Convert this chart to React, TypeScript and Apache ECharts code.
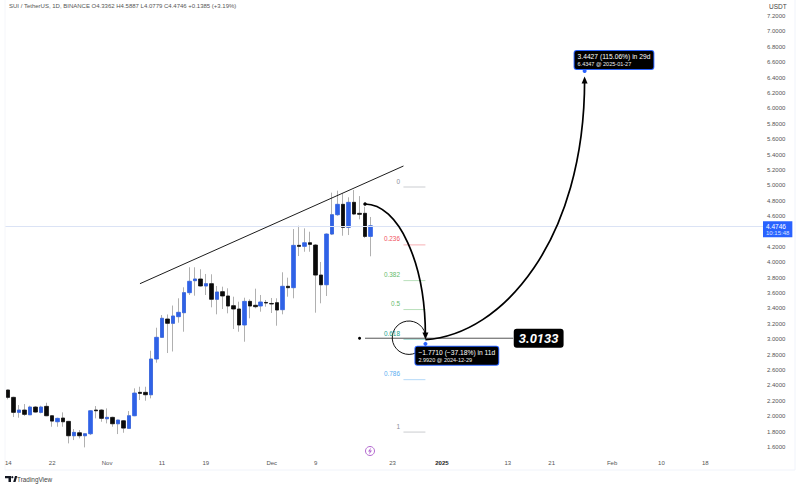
import React, { useEffect, useRef } from "react";
import * as echarts from "echarts";

const FONT = "'Liberation Sans', Arial, sans-serif";
const UP = "#2f62e6";
const DOWN = "#0a0a0a";
const WICK = "#b0b0b0";

const startDate = "2024-10-14";
const dayCount = 138;

const opens = [2.34,2.245,2.05,2.08,2.019,2.119,2.05,2.128,2.006,1.928,1.976,1.933,1.746,1.785,1.746,1.772,2.08,2.08,1.967,1.985,1.902,1.941,1.842,2.006,2.31,2.31,2.279,2.743,3.025,3.263,3.207,3.293,3.345,3.605,3.761,3.783,3.692,3.722,3.519,3.618,3.562,3.436,3.393,3.185,3.492,3.441,3.432,3.478,3.465,3.475,3.384,3.688,3.67,4.22,4.207,4.254,4.224,3.834,3.708,4.367,4.618,4.753,4.454,4.779,4.636,4.636,4.3362];
const closes = [2.245,2.05,2.08,2.024,2.119,2.054,2.119,2.006,1.937,1.972,1.928,1.746,1.79,1.746,1.772,2.071,2.071,1.972,1.985,1.902,1.95,1.846,2.006,2.301,2.297,2.279,2.743,3.025,3.272,3.207,3.302,3.35,3.605,3.753,3.783,3.692,3.722,3.519,3.614,3.562,3.432,3.393,3.185,3.492,3.432,3.423,3.484,3.471,3.458,3.38,3.688,3.67,4.22,4.207,4.254,4.233,3.834,3.708,4.367,4.618,4.753,4.454,4.779,4.627,4.623,4.336,4.4746];
const lows = [2.219,1.989,1.98,2.002,2.015,2.05,2.037,2.002,1.863,1.863,1.863,1.647,1.69,1.712,1.595,1.755,1.972,1.928,1.907,1.863,1.768,1.785,1.837,2.002,2.21,2.201,2.232,2.695,3.02,2.821,2.841,3.215,3.098,3.575,3.566,3.688,3.575,3.415,3.324,3.393,3.337,3.133,3.098,2.968,3.272,3.402,3.358,3.423,3.341,3.176,3.324,3.553,3.532,4.081,4.137,4.137,3.345,3.467,3.562,4.354,4.605,4.345,4.354,4.613,4.558,4.315,4.0779];
const highs = [2.345,2.253,2.145,2.158,2.136,2.132,2.136,2.175,2.015,1.98,2.05,1.937,1.833,1.82,1.777,2.08,2.132,2.089,2.102,1.993,1.954,1.95,2.067,2.362,2.383,2.383,2.851,3.15,3.315,3.322,3.438,3.532,3.675,3.935,3.935,3.909,3.848,3.844,3.692,3.683,3.662,3.553,3.488,3.54,3.519,3.657,3.575,3.51,3.536,3.532,3.87,3.8,4.432,4.475,4.441,4.397,4.237,4.004,4.374,4.905,4.931,4.896,4.844,4.939,4.86,4.722,4.5887];

const xTickDates = ["2024-10-14","2024-10-22","2024-11-01","2024-11-11","2024-11-19","2024-12-01","2024-12-09","2024-12-23","2025-01-01","2025-01-13","2025-01-21","2025-02-01","2025-02-10","2025-02-18"];
const xTickLabels = ["14","22","Nov","11","19","Dec","9","23","2025","13","21","Feb","10","18"];

const trendDates = ["2024-11-07", "2024-12-25"];
const trendPrices = [3.722, 5.251];

const fibLabels = ["0","0.236","0.382","0.5","0.618","0.786","1"];
const fibPrices = [4.978,4.226,3.762,3.386,3.0,2.475,1.794];
const fibColors = ["#8a8d96","#f0525c","#66bb6a","#66bb6a","#17a08c","#5aaef0","#8a8d96"];
const fibDates = ["2024-12-25", "2024-12-29"];

// start, control 1, control 2, end of each curved arrow
const downArcDates = ["2024-12-18","2024-12-24","2024-12-29","2024-12-29"];
const downArcPrices = [4.757,4.757,4.003,3.042];
const upArcDates = ["2024-12-29","2025-01-12","2025-01-27","2025-01-27"];
const upArcPrices = [2.996,3.055,4.289,6.368];

const supportDates = ["2024-12-18", "2025-01-14"];
const supportPrice = 3.0133;
const dotDate = "2024-12-17";
const circleDate = "2024-12-26";
const circlePrice = 3.02;

const lastPrice = 4.4746;
const countdown = "10:15:48";
const headerText = "SUI / TetherUS, 1D, BINANCE O4.3362 H4.5887 L4.0779 C4.4746 +0.1385 (+3.19%)";

const dateAt = (i: number) => new Date(Date.parse(startDate + "T00:00:00Z") + i * 86400000).toISOString().slice(0, 10);
const categories = Array.from({ length: dayCount }, (_, i) => dateAt(i));
const wickData = opens.map((o, i) => [o, closes[i], lows[i], highs[i]]);
const bodyData = opens.map((o, i) => [o, closes[i], Math.min(o, closes[i]), Math.max(o, closes[i])]);
const pair = (d: string[], p: number[]) => d.map((x, i) => [x, p[i]]);

const curveSeries = (name: string, dates: string[], prices: number[]) => ({
  type: "custom", name, silent: true, z: 7, clip: false,
  data: [prices],
  renderItem: (_: any, api: any) => {
    const pts = dates.map((d, i) => api.coord([categories.indexOf(d), prices[i]]));
    return {
      type: "bezierCurve",
      shape: {
        x1: pts[0][0], y1: pts[0][1], cpx1: pts[1][0], cpy1: pts[1][1],
        cpx2: pts[2][0], cpy2: pts[2][1], x2: pts[3][0], y2: pts[3][1],
      },
      style: { stroke: "#000", lineWidth: 1.7, fill: null },
    };
  },
});

export default function App() {
  const ref = useRef<HTMLDivElement>(null);
  useEffect(() => {
    const chart = echarts.init(ref.current!, undefined, { renderer: "svg" });
    const hidden = { color: "transparent", opacity: 1 };
    const solid = (color: string) => ({ color, opacity: 1 });
    const labelBox = { backgroundColor: "#000", borderColor: "#2962ff", borderWidth: 1, borderRadius: 2, padding: [1, 3, 1, 3], align: "left" };
    const rich = {
      a: { color: "#fff", fontSize: 6.7, fontFamily: FONT, lineHeight: 9 },
      b: { color: "#f0f0f0", fontSize: 5.5, fontFamily: FONT, lineHeight: 7 },
    };
    const fibSeries: any[] = fibLabels.map((name, i) => ({
      type: "line", name: "fib " + name, data: fibDates.map((d) => [d, fibPrices[i]]),
      showSymbol: false, silent: true, z: 3,
      lineStyle: { color: fibColors[i], width: 1, opacity: 0.45 },
    }));
    chart.setOption({
      animation: false,
      backgroundColor: "#fff",
      title: { text: headerText, left: 9, top: 3, padding: 0, textStyle: { fontSize: 6, fontWeight: "normal", color: "#555", fontFamily: FONT } },
      grid: { left: 5.5, right: 37, top: 16, bottom: 41 },
      xAxis: {
        type: "category", data: categories, boundaryGap: true,
        axisLine: { show: false }, axisTick: { show: false }, splitLine: { show: false },
        axisLabel: {
          margin: 13, fontSize: 6, color: "#555", fontFamily: FONT, hideOverlap: false,
          interval: (_: number, v: string) => xTickDates.includes(v),
          formatter: (v: string) => {
            const t = xTickLabels[xTickDates.indexOf(v)] ?? "";
            return t === "2025" ? "{y|2025}" : t;
          },
          rich: { y: { fontSize: 6, fontWeight: "bold", color: "#222", fontFamily: FONT } },
        },
      },
      yAxis: {
        type: "value", position: "right", min: 1.6, max: 7.2, interval: 0.2,
        name: "USDT", nameLocation: "end", nameGap: 6,
        nameTextStyle: { fontSize: 6.5, color: "#444", fontFamily: FONT, align: "left", padding: [0, 0, 0, 6] },
        axisLine: { show: false }, axisTick: { show: false }, splitLine: { show: false },
        axisLabel: {
          margin: 4, fontSize: 6, color: "#555", fontFamily: FONT, showMinLabel: true, showMaxLabel: true,
          formatter: (v: number) => (Math.abs(v - 4.4) < 1e-6 ? "" : v.toFixed(4)),
        },
      },
      series: [
        {
          type: "candlestick", name: "wicks", data: wickData, barWidth: 3, clip: false, silent: true, z: 2,
          itemStyle: { color: WICK, color0: WICK, borderColor: WICK, borderColor0: WICK, borderWidth: 1 },
        },
        {
          type: "candlestick", name: "bodies", data: bodyData, barWidth: 4, clip: false, silent: true, z: 4,
          itemStyle: { color: UP, color0: DOWN, borderColor: UP, borderColor0: DOWN, borderWidth: 0.7 },
          markLine: {
            silent: true, symbol: "none", precision: 4,
            lineStyle: { color: "#dbe3f5", width: 1, type: "solid" },
            label: {
              show: true, position: "end", distance: 0, offset: [0, 3.5],
              formatter: `{p|${lastPrice.toFixed(4)}}\n{t|${countdown}}`,
              backgroundColor: "#2962ff", padding: [1, 3, 1, 3],
              rich: {
                p: { color: "#fff", fontSize: 6.5, fontFamily: FONT, lineHeight: 7.5 },
                t: { color: "#d6e0ff", fontSize: 6, fontFamily: FONT, lineHeight: 6.5 },
              },
            },
            data: [{ yAxis: lastPrice }],
          },
        },
        {
          type: "line", name: "trend", data: pair(trendDates, trendPrices), showSymbol: false, silent: true, z: 5,
          lineStyle: { color: "#1c1c1c", width: 1 },
        },
        ...fibSeries,
        {
          type: "scatter", name: "fib labels", symbolSize: 1, silent: true, z: 6, itemStyle: hidden,
          data: fibLabels.map((name, i) => ({
            name, value: [fibDates[0], fibPrices[i]],
            label: { show: true, formatter: "{b}", position: "left", distance: 3, offset: [0, -6], fontSize: 6.4, color: fibColors[i], fontFamily: FONT },
          })),
        },
        {
          type: "line", name: "support", data: supportDates.map((d) => [d, supportPrice]),
          showSymbol: false, silent: true, z: 5, lineStyle: { color: "#555", width: 1 },
        },
        {
          type: "scatter", name: "support label", symbolSize: 1, silent: true, z: 8, itemStyle: hidden,
          data: [{
            value: [supportDates[1], supportPrice],
            label: {
              show: true, formatter: supportPrice.toFixed(4), position: "right", distance: 0,
              backgroundColor: "#000", color: "#fff", borderRadius: 3, padding: [3, 5, 3, 5],
              fontSize: 13, fontWeight: "bold", fontStyle: "italic", fontFamily: "Roboto, sans-serif",
            },
          }],
        },
        {
          type: "scatter", name: "dot", data: [[dotDate, supportPrice]], symbolSize: 3, silent: true, z: 6,
          itemStyle: solid("#000"),
        },
        {
          type: "custom", name: "circle", silent: true, z: 6, data: [[circleDate, circlePrice]],
          renderItem: (_: any, api: any) => {
            const c = api.coord([api.value(0), api.value(1)]);
            return {
              type: "arc",
              shape: { cx: c[0], cy: c[1], r: 16.7, startAngle: 0, endAngle: (65 * Math.PI) / 180, clockwise: false },
              style: { stroke: "#111", lineWidth: 1, fill: null },
            };
          },
        },
        curveSeries("down", downArcDates, downArcPrices),
        curveSeries("up", upArcDates, upArcPrices),
        {
          type: "scatter", name: "arrow start", data: [[downArcDates[0], downArcPrices[0]]], symbolSize: 3.5, silent: true, z: 8,
          itemStyle: solid("#000"),
        },
        {
          type: "scatter", name: "arrow down", data: [[downArcDates[3], downArcPrices[3]]], symbol: "triangle",
          symbolSize: [6, 7], symbolRotate: 180, silent: true, z: 8, itemStyle: solid("#000"),
        },
        {
          type: "scatter", name: "arrow up", data: [[upArcDates[3], upArcPrices[3]]], symbol: "triangle",
          symbolSize: [6, 7], silent: true, z: 8, itemStyle: solid("#000"),
        },
        {
          type: "scatter", name: "target label", symbolSize: 4, symbolOffset: [0, -4], silent: true, z: 9,
          itemStyle: solid("#2962ff"),
          data: [{
            value: ["2025-01-27", 6.4347],
            label: { show: true, position: [-8, -18], formatter: "{a|3.4427 (115.06%) in 29d}\n{b|6.4347 @ 2025-01-27}", rich, ...labelBox },
          }],
        },
        {
          type: "scatter", name: "low label", symbolSize: 4, symbolOffset: [0, 4], silent: true, z: 9,
          itemStyle: solid("#2962ff"),
          data: [{
            value: ["2024-12-29", 2.992],
            label: { show: true, position: [-8, 5], formatter: "{a|\u22121.7710 (\u221237.18%) in 11d}\n{b|2.9920 @ 2024-12-29}", rich, ...labelBox },
          }],
        },
      ],
      graphic: [
        { type: "line", silent: true, shape: { x1: 5, y1: 470, x2: 795, y2: 470 }, style: { stroke: "#f0f3fa", lineWidth: 1 } },
        { type: "line", silent: true, shape: { x1: 5, y1: 0, x2: 5, y2: 470 }, style: { stroke: "#f5f6fa", lineWidth: 1 } },
        { type: "line", silent: true, shape: { x1: 795, y1: 0, x2: 795, y2: 470 }, style: { stroke: "#f0f3fa", lineWidth: 1 } },
        { type: "circle", silent: true, shape: { cx: 370, cy: 451, r: 4.5 }, style: { stroke: "#b46ad0", lineWidth: 1, fill: "#fff" } },
        { type: "polygon", silent: true, shape: { points: [[371, 447.5], [368, 451.5], [369.8, 451.5], [369, 454.5], [372, 450.5], [370.2, 450.5]] }, style: { fill: "#b46ad0" } },
        { type: "polygon", silent: true, shape: { points: [[5, 476], [11, 476], [11, 482], [8.5, 482], [8.5, 478.3], [5, 478.3]] }, style: { fill: "#131722" } },
        { type: "circle", silent: true, shape: { cx: 12.3, cy: 477.2, r: 1.1 }, style: { fill: "#131722" } },
        { type: "polygon", silent: true, shape: { points: [[13.2, 482], [15, 476], [17.3, 476], [15.5, 482]] }, style: { fill: "#131722" } },
        { type: "text", silent: true, x: 17, y: 479, style: { text: "TradingView", fontSize: 6.4, fill: "#444", fontFamily: FONT, verticalAlign: "middle" } },
      ],
    });
    return () => chart.dispose();
  }, []);
  return <div ref={ref} style={{ position: "absolute", left: 0, top: 0, width: 800, height: 488 }} />;
}
